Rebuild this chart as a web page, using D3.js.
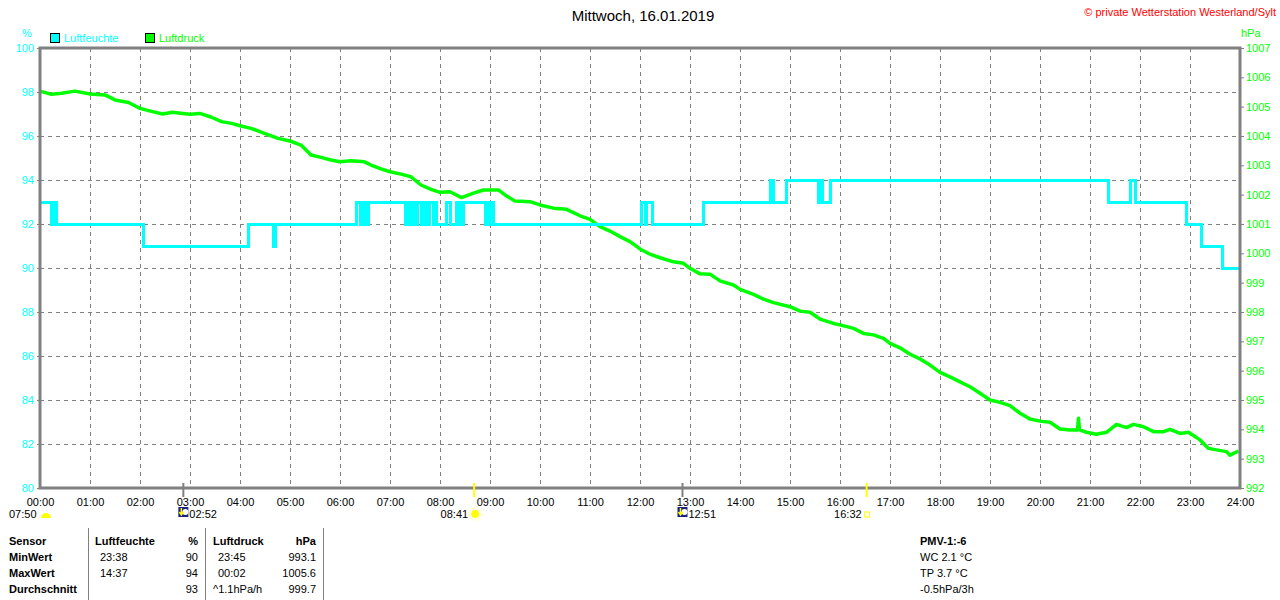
<!DOCTYPE html>
<html><head><meta charset="utf-8">
<script src="https://cdn.jsdelivr.net/npm/d3@7"></script>
<style>
html,body{margin:0;padding:0;background:#fff;}
svg{display:block;font-family:"Liberation Sans",Arial,sans-serif;}
</style></head>
<body>
<svg id="c" width="1280" height="600"></svg>
<script>
// ---- data ----
const title = "Mittwoch, 16.01.2019";
const credit = "© private Wetterstation Westerland/Sylt";
const seriesNames = ["Luftfeuchte", "Luftdruck"];
const hourLabels = d3.range(0, 25).map(h => String(h).padStart(2, "0") + ":00");
const humTicks = [80, 82, 84, 86, 88, 90, 92, 94, 96, 98, 100];
const presTicks = [992, 993, 994, 995, 996, 997, 998, 999, 1000, 1001, 1002, 1003, 1004, 1005, 1006, 1007];

// humidity change points: [hour, %]
const humTimes = [0, 0.23, 0.27, 0.33, 2.07, 4.17, 4.67, 4.70, 6.32, 6.40, 6.44, 6.50, 6.56,
  7.30, 7.34, 7.40, 7.45, 7.50, 7.55, 7.62, 7.66, 7.72, 7.78, 7.86, 7.90, 7.93, 8.13, 8.20,
  8.33, 8.37, 8.40, 8.43, 8.47, 8.90, 8.93, 8.97, 9.00, 9.06,
  12.03, 12.10, 12.12, 12.25, 13.26, 14.60, 14.66, 14.92, 15.56, 15.62, 15.65, 15.80,
  21.36, 21.80, 21.90, 22.92, 23.22, 23.64, 24.0];
const humValues = [93, 92, 93, 92, 91, 92, 91, 92, 93, 92, 93, 92, 93,
  92, 93, 92, 93, 92, 93, 92, 93, 92, 93, 92, 93, 92, 93, 92,
  93, 92, 93, 92, 93, 92, 93, 92, 93, 92,
  93, 92, 93, 92, 93, 94, 93, 94, 93, 94, 93, 94,
  93, 94, 93, 92, 91, 90, 90];

// pressure samples: [hour, hPa]
const presTimes = [0, 0.23, 0.43, 0.70, 1.0, 1.3, 1.5, 1.77, 2.0, 2.25, 2.45, 2.65, 2.85, 3.0, 3.2, 3.43,
  3.63, 3.83, 4.0, 4.22, 4.49, 4.76, 5.0, 5.22, 5.42, 5.62, 5.82, 6.0, 6.22, 6.49, 6.62, 6.82,
  7.0, 7.22, 7.42, 7.62, 7.82, 8.0, 8.2, 8.43, 8.67, 8.87, 9.17, 9.3, 9.5, 9.8, 10.0, 10.27,
  10.53, 10.8, 11.0, 11.2, 11.4, 11.6, 11.8, 12.0, 12.2, 12.4, 12.67, 12.87, 13.0, 13.2, 13.4,
  13.6, 13.87, 14.0, 14.27, 14.47, 14.67, 15.0, 15.2, 15.4, 15.6, 15.87, 16.0, 16.27, 16.47,
  16.67, 16.87, 17.0, 17.2, 17.4, 17.6, 17.8, 18.0, 18.2, 18.4, 18.6, 18.8, 19.0, 19.2, 19.4,
  19.6, 19.8, 20.0, 20.2, 20.4, 20.6, 20.75, 20.77, 20.79, 20.93, 21.13, 21.33, 21.53, 21.73,
  21.87, 22.07, 22.27, 22.47, 22.6, 22.8, 22.97, 23.2, 23.37, 23.53, 23.73, 23.8, 23.97];
const presValues = [1005.53, 1005.42, 1005.46, 1005.53, 1005.43, 1005.40, 1005.23, 1005.14, 1004.94,
  1004.83, 1004.75, 1004.81, 1004.77, 1004.74, 1004.77, 1004.64, 1004.49, 1004.43, 1004.35,
  1004.26, 1004.09, 1003.92, 1003.83, 1003.69, 1003.35, 1003.27, 1003.18, 1003.12, 1003.16,
  1003.12, 1003.01, 1002.88, 1002.78, 1002.70, 1002.61, 1002.33, 1002.18, 1002.08, 1002.10,
  1001.90, 1002.05, 1002.16, 1002.16, 1001.99, 1001.78, 1001.76, 1001.65, 1001.54, 1001.50,
  1001.28, 1001.16, 1000.91, 1000.76, 1000.57, 1000.40, 1000.15, 999.97, 999.85, 999.71,
  999.66, 999.49, 999.30, 999.29, 999.06, 998.92, 998.77, 998.60, 998.44, 998.32, 998.18,
  998.03, 997.99, 997.76, 997.61, 997.56, 997.44, 997.27, 997.22, 997.10, 996.93, 996.78,
  996.56, 996.40, 996.19, 995.94, 995.79, 995.62, 995.45, 995.23, 995.00, 994.92, 994.81,
  994.55, 994.35, 994.28, 994.24, 994.01, 993.98, 993.98, 994.38, 993.98, 993.90, 993.83,
  993.90, 994.17, 994.06, 994.17, 994.09, 993.92, 993.92, 994.00, 993.86, 993.90, 993.64,
  993.35, 993.30, 993.24, 993.12, 993.26];

// sun / moon events (hour, label, kind)
const eventTimes = [7.833, 2.867, 8.683, 12.85, 16.533];
const eventLabels = ["07:50", "02:52", "08:41", "12:51", "16:32"];
const eventKinds = ["dawn", "moonrise", "sunrise", "moonset", "sunset"];

// statistics table
const tableHeader = ["Sensor", "Luftfeuchte", "%", "Luftdruck", "hPa"];
const rowNames = ["MinWert", "MaxWert", "Durchschnitt"];
const humTimesStat = ["23:38", "14:37", ""];
const humStat = ["90", "94", "93"];
const presTimesStat = ["23:45", "00:02", "^1.1hPa/h"];
const presStat = ["993.1", "1005.6", "999.7"];
const pmvLines = ["PMV-1:-6", "WC 2.1 °C", "TP 3.7 °C", "-0.5hPa/3h"];

// ---- drawing ----
const CYAN = "#00ffff", GREEN = "#00ff00", GRAY = "#808080";
const svg = d3.select("#c");
const x = d3.scaleLinear().domain([0, 24]).range([40, 1240]);
const yL = d3.scaleLinear().domain([80, 100]).range([488, 48]);
const yR = d3.scaleLinear().domain([992, 1007]).range([488, 48]);

// grid
const grid = svg.append("g").attr("stroke", GRAY).attr("stroke-width", 1)
  .attr("stroke-dasharray", "4,4").attr("shape-rendering", "crispEdges");
grid.selectAll("line.v").data(d3.range(1, 24)).join("line")
  .attr("x1", d => x(d) + 0.5).attr("x2", d => x(d) + 0.5).attr("y1", 48).attr("y2", 488);
grid.selectAll("line.h").data(humTicks.filter(d => d > 80 && d < 100)).join("line")
  .attr("x1", 40).attr("x2", 1240).attr("y1", d => yL(d) + 0.5).attr("y2", d => yL(d) + 0.5);

// left axis
const axL = svg.append("g").attr("transform", "translate(40,0)")
  .call(d3.axisLeft(yL).tickValues(humTicks).tickSize(3).tickPadding(3).tickFormat(d3.format("d")));
axL.select(".domain").remove();
axL.selectAll("line").attr("stroke", GRAY);
axL.selectAll("text").attr("fill", CYAN).attr("font-size", 11).attr("font-family", "Liberation Sans, Arial");

// right axis
const axR = svg.append("g").attr("transform", "translate(1240,0)")
  .call(d3.axisRight(yR).tickValues(presTicks).tickSize(4).tickPadding(2).tickFormat(d3.format("d")));
axR.select(".domain").remove();
axR.selectAll("line").attr("stroke", GRAY);
axR.selectAll("text").attr("fill", GREEN).attr("font-size", 11).attr("font-family", "Liberation Sans, Arial");

// bottom axis labels
const axB = svg.append("g").attr("transform", "translate(0,488)")
  .call(d3.axisBottom(x).tickValues(d3.range(0, 25)).tickSize(0).tickPadding(10).tickFormat(d => hourLabels[d]));
axB.select(".domain").remove();
axB.selectAll("text").attr("fill", "#000").attr("font-size", 11).attr("font-family", "Liberation Sans, Arial");

// data lines
const presData = presTimes.map((t, i) => [t, presValues[i]]);
svg.append("path").datum(presData)
  .attr("fill", "none").attr("stroke", GREEN).attr("stroke-width", 3.5).attr("stroke-linejoin", "round")
  .attr("d", d3.line().x(d => x(d[0])).y(d => yR(d[1])));

const humData = humTimes.map((t, i) => [t, humValues[i]]);
svg.append("path").datum(humData)
  .attr("fill", "none").attr("stroke", CYAN).attr("stroke-width", 3).attr("shape-rendering", "crispEdges")
  .attr("d", d3.line().curve(d3.curveStepAfter).x(d => x(d[0])).y(d => yL(d[1])));

// frame
svg.append("rect").attr("x", 40).attr("y", 48).attr("width", 1200).attr("height", 440)
  .attr("fill", "none").attr("stroke", GRAY).attr("stroke-width", 3);

// event markers
eventTimes.forEach((t, i) => {
  const k = eventKinds[i];
  const px = x(t);
  if (k !== "dawn") {
    svg.append("line").attr("x1", px).attr("x2", px).attr("y1", 483).attr("y2", 497)
      .attr("stroke", k.startsWith("moon") ? GRAY : "#ffff00").attr("stroke-width", 2);
  }
  const g = svg.append("g").attr("font-size", 11).attr("fill", "#000");
  if (k === "dawn") {
    g.append("text").attr("x", 9).attr("y", 518).text(eventLabels[i]);
    g.append("path").attr("d", d3.arc()({innerRadius: 0, outerRadius: 5, startAngle: -Math.PI / 2, endAngle: Math.PI / 2}))
      .attr("transform", "translate(46,518)").attr("fill", "#ffff00");
  } else if (k === "moonrise" || k === "moonset") {
    g.append("rect").attr("x", px - 5).attr("y", 507).attr("width", 10).attr("height", 10).attr("fill", "#1a237e");
    g.append("circle").attr("cx", px + 2).attr("cy", 512).attr("r", 3).attr("fill", "#fff");
    g.append("path").attr("d", `M${px - 2},508 L${px - 2},514 M${px - 4},512 L${px - 2},515 L${px},512`)
      .attr("stroke", "#ffff00").attr("stroke-width", 1.5).attr("fill", "none");
    g.append("text").attr("x", px + 6).attr("y", 518).text(eventLabels[i]);
  } else if (k === "sunrise") {
    g.append("text").attr("x", px - 6).attr("y", 518).attr("text-anchor", "end").text(eventLabels[i]);
    g.append("circle").attr("cx", px + 1).attr("cy", 514).attr("r", 4).attr("fill", "#ffff00");
    g.append("circle").attr("cx", px + 1).attr("cy", 514).attr("r", 6).attr("fill", "none")
      .attr("stroke", "#ffff66").attr("stroke-width", 1).attr("stroke-dasharray", "2,2");
  } else {
    g.append("text").attr("x", px - 5).attr("y", 518).attr("text-anchor", "end").text(eventLabels[i]);
    g.append("rect").attr("x", px - 2).attr("y", 512).attr("width", 5).attr("height", 5)
      .attr("fill", "none").attr("stroke", "#ffff00").attr("stroke-width", 1);
  }
});

// title and credit
svg.append("text").attr("x", 643).attr("y", 21).attr("text-anchor", "middle")
  .attr("font-size", 15).attr("fill", "#000").text(title);
svg.append("text").attr("x", 1276).attr("y", 16).attr("text-anchor", "end")
  .attr("font-size", 11).attr("fill", "#ff0000").text(credit);

// unit labels
svg.append("text").attr("x", 27).attr("y", 37).attr("text-anchor", "middle")
  .attr("font-size", 11).attr("fill", CYAN).text("%");
svg.append("text").attr("x", 1241).attr("y", 37)
  .attr("font-size", 11).attr("fill", GREEN).text("hPa");

// legend
const legColors = [CYAN, GREEN];
const legX = [50, 145];
seriesNames.forEach((n, i) => {
  svg.append("rect").attr("x", legX[i] + 0.5).attr("y", 33.5).attr("width", 9).attr("height", 9)
    .attr("fill", legColors[i]).attr("stroke", "#000").attr("stroke-width", 1);
  svg.append("text").attr("x", legX[i] + 14).attr("y", 42).attr("font-size", 11)
    .attr("fill", legColors[i]).text(n);
});

// table
const rowY = [545, 561, 577, 593];
[88, 205, 323].forEach(v => svg.append("line").attr("x1", v + 0.5).attr("x2", v + 0.5)
  .attr("y1", 528).attr("y2", 600).attr("stroke", GRAY).attr("stroke-width", 1));
const tb = svg.append("g").attr("font-size", 11).attr("fill", "#000");
const hx = [9, 95, 198, 213, 316];
const ha = ["start", "start", "end", "start", "end"];
tableHeader.forEach((h, i) => tb.append("text").attr("x", hx[i]).attr("y", rowY[0])
  .attr("text-anchor", ha[i]).attr("font-weight", "bold").text(h));
rowNames.forEach((r, i) => {
  const y = rowY[i + 1];
  tb.append("text").attr("x", 9).attr("y", y).attr("font-weight", "bold").text(r);
  tb.append("text").attr("x", 100).attr("y", y).text(humTimesStat[i]);
  tb.append("text").attr("x", 198).attr("y", y).attr("text-anchor", "end").text(humStat[i]);
  tb.append("text").attr("x", presTimesStat[i].startsWith("^") ? 213 : 218).attr("y", y).text(presTimesStat[i]);
  tb.append("text").attr("x", 316).attr("y", y).attr("text-anchor", "end").text(presStat[i]);
});
pmvLines.forEach((l, i) => tb.append("text").attr("x", 920).attr("y", rowY[i])
  .attr("font-weight", i === 0 ? "bold" : "normal").text(l));
</script>
</body></html>
